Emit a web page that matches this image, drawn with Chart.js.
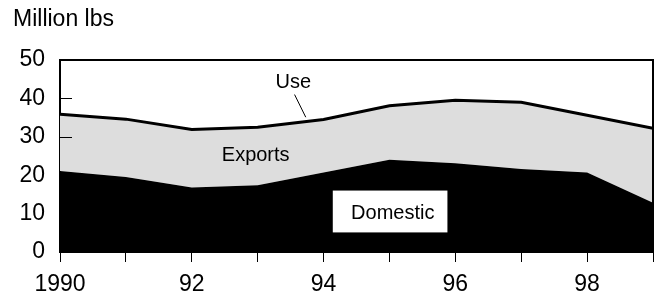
<!DOCTYPE html>
<html>
<head>
<meta charset="utf-8">
<script src="https://cdn.jsdelivr.net/npm/chart.js@4"></script>
<style>
  body { margin: 0; background: #fff; }
  #chart { display: block; }
</style>
</head>
<body>
<canvas id="chart" width="663" height="297"></canvas>
<script>
// data
const years = [1990, 1991, 1992, 1993, 1994, 1995, 1996, 1997, 1998, 1999];
const domestic = [21.1, 19.5, 16.8, 17.4, 20.7, 24.0, 23.1, 21.6, 20.7, 12.8];
const use = [35.9, 34.6, 31.9, 32.5, 34.5, 38.1, 39.5, 39.0, 35.6, 32.2];
const xTickLabels = ['1990', '', '92', '', '94', '', '96', '', '98', ''];
const yTicks = [0, 10, 20, 30, 40, 50];

const FONT = 'Liberation Sans, Arial, Helvetica, sans-serif';

// border on top / right, inside ticks on y, and the text labels
const decorations = {
    id: 'decorations',
    afterDatasetsDraw(chart) {
        const ctx = chart.ctx;
        const area = chart.chartArea;
        const x = chart.scales.x;
        const y = chart.scales.y;
        ctx.save();

        // ticks pointing inward on the y axis
        ctx.strokeStyle = '#000';
        ctx.lineWidth = 1;
        yTicks.forEach(v => {
            const py = Math.round(y.getPixelForValue(v)) + 0.5;
            ctx.beginPath();
            ctx.moveTo(area.left, py);
            ctx.lineTo(area.left + 12, py);
            ctx.stroke();
        });

        // frame top + right
        ctx.lineWidth = 2;
        ctx.beginPath();
        ctx.moveTo(area.left, area.top);
        ctx.lineTo(area.right, area.top);
        ctx.lineTo(area.right, area.bottom);
        ctx.stroke();

        // "Use" label and leader
        ctx.fillStyle = '#000';
        ctx.font = '20px ' + FONT;
        ctx.textAlign = 'center';
        ctx.textBaseline = 'middle';
        ctx.fillText('Use', x.getPixelForValue(1993.54), y.getPixelForValue(44.1));
        ctx.lineWidth = 1;
        ctx.beginPath();
        ctx.moveTo(x.getPixelForValue(1993.56), y.getPixelForValue(41.0));
        ctx.lineTo(x.getPixelForValue(1993.73), y.getPixelForValue(35.1));
        ctx.stroke();

        // "Exports"
        ctx.fillText('Exports', x.getPixelForValue(1992.97), y.getPixelForValue(25.2));

        // "Domestic" in a white box
        const bx1 = x.getPixelForValue(1994.14), bx2 = x.getPixelForValue(1995.88);
        const by1 = y.getPixelForValue(16.0), by2 = y.getPixelForValue(5.1);
        ctx.fillStyle = '#fff';
        ctx.fillRect(bx1, by1, bx2 - bx1, by2 - by1);
        ctx.fillStyle = '#000';
        ctx.fillText('Domestic', x.getPixelForValue(1995.05), y.getPixelForValue(9.9));

        // unit label
        ctx.font = '23px ' + FONT;
        ctx.textAlign = 'left';
        ctx.fillText('Million lbs', 13, 20);

        ctx.restore();
    }
};

new Chart(document.getElementById('chart'), {
    type: 'line',
    data: {
        labels: years,
        datasets: [{
            label: 'Domestic',
            data: domestic,
            fill: 'origin',
            backgroundColor: '#000',
            borderColor: '#000',
            borderWidth: 0,
            pointRadius: 0,
            tension: 0
        }, {
            label: 'Use',
            data: use,
            fill: '-1',
            backgroundColor: '#dddddd',
            borderColor: '#000',
            borderWidth: 3,
            pointRadius: 0,
            tension: 0
        }]
    },
    options: {
        responsive: false,
        animation: false,
        layout: { padding: { top: 60, right: 10, left: 0, bottom: 0 } },
        plugins: {
            legend: { display: false },
            tooltip: { enabled: false }
        },
        scales: {
            x: {
                type: 'linear',
                min: 1990,
                max: 1999,
                afterFit(scale) { scale.height = 45; },
                border: { color: '#000', width: 2 },
                grid: { drawOnChartArea: false, color: '#000', tickLength: 10, tickWidth: 1 },
                ticks: {
                    stepSize: 1,
                    autoSkip: false,
                    maxRotation: 0,
                    padding: 9,
                    color: '#000',
                    font: { family: FONT, size: 23 },
                    callback: v => xTickLabels[v - 1990]
                }
            },
            y: {
                min: 0,
                max: 50,
                afterFit(scale) { scale.width = 60; },
                border: { color: '#000', width: 2 },
                grid: { drawOnChartArea: false, drawTicks: false },
                ticks: {
                    stepSize: 10,
                    padding: 15,
                    color: '#000',
                    font: { family: FONT, size: 23 }
                }
            }
        }
    },
    plugins: [decorations]
});
</script>
</body>
</html>
